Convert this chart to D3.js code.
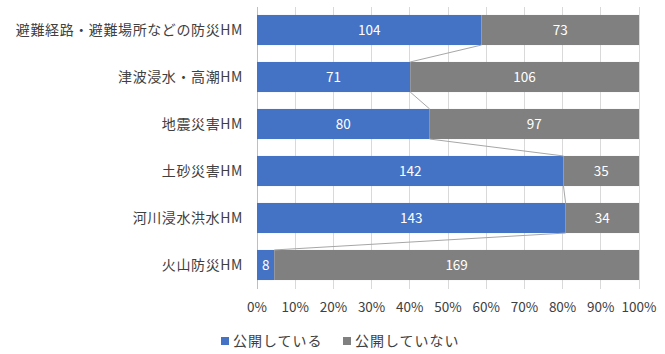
<!DOCTYPE html>
<html>
<head>
<meta charset="utf-8">
<script src="https://cdn.jsdelivr.net/npm/d3@7"></script>
<style>
  body { margin: 0; background: #fff; }
  svg { display: block; font-family: "Noto Sans CJK JP", "Noto Sans", sans-serif; }
</style>
</head>
<body>
<svg id="chart" width="665" height="354"></svg>
<script>
const categories = [
  "避難経路・避難場所などの防災HM",
  "津波浸水・高潮HM",
  "地震災害HM",
  "土砂災害HM",
  "河川浸水洪水HM",
  "火山防災HM"
];
const published = [104, 71, 80, 142, 143, 8];
const notPublished = [73, 106, 97, 35, 34, 169];
const seriesNames = ["公開している", "公開していない"];
const xTicks = [0, 0.1, 0.2, 0.3, 0.4, 0.5, 0.6, 0.7, 0.8, 0.9, 1];

const colors = ["#4472c4", "#808080"];
const margin = { top: 6.5, left: 257, right: 26, bottom: 65.5 };
const width = 665, height = 354;
const w = width - margin.left - margin.right;
const h = height - margin.top - margin.bottom;

const svg = d3.select("#chart");
const g = svg.append("g").attr("transform", `translate(${margin.left},${margin.top})`);

const x = d3.scaleLinear().domain([0, 1]).range([0, w]);
const y = d3.scaleBand().domain(categories).range([0, h]).paddingInner(0.36).paddingOuter(0.18);

// Gridlines
xTicks.forEach(t => {
  g.append("line")
    .attr("x1", x(t)).attr("x2", x(t))
    .attr("y1", 0).attr("y2", h)
    .attr("stroke", t === 0 ? "#bfbfbf" : "#d9d9d9")
    .attr("stroke-width", 1)
    .attr("shape-rendering", "crispEdges");
});

const rows = categories.map((c, i) => {
  const total = published[i] + notPublished[i];
  return { cat: c, a: published[i], b: notPublished[i], pa: published[i] / total };
});

// Bars
rows.forEach(r => {
  g.append("rect")
    .attr("x", x(0)).attr("y", y(r.cat))
    .attr("width", x(r.pa) - x(0)).attr("height", y.bandwidth())
    .attr("fill", colors[0]);
  g.append("rect")
    .attr("x", x(r.pa)).attr("y", y(r.cat))
    .attr("width", x(1) - x(r.pa)).attr("height", y.bandwidth())
    .attr("fill", colors[1]);
});

// Series lines between the blue segment ends
for (let i = 0; i < rows.length - 1; i++) {
  g.append("line")
    .attr("x1", x(rows[i].pa)).attr("y1", y(rows[i].cat) + y.bandwidth())
    .attr("x2", x(rows[i + 1].pa)).attr("y2", y(rows[i + 1].cat))
    .attr("stroke", "#a6a6a6")
    .attr("stroke-width", 1);
}

// Data labels
rows.forEach(r => {
  [[r.pa / 2, r.a], [(r.pa + 1) / 2, r.b]].forEach(([pos, v]) => {
    g.append("text")
      .attr("x", x(pos)).attr("y", y(r.cat) + y.bandwidth() / 2)
      .attr("dy", "0.36em")
      .attr("text-anchor", "middle")
      .attr("fill", "#fff").attr("font-size", "13.5px")
      .text(v);
  });
});

// Category labels
categories.forEach(c => {
  g.append("text")
    .attr("x", -14).attr("y", y(c) + y.bandwidth() / 2)
    .attr("dy", "0.36em")
    .attr("text-anchor", "end")
    .attr("fill", "#404040").attr("font-size", "14px")
    .attr("letter-spacing", "0.6px")
    .text(c);
});

// X tick labels
xTicks.forEach(t => {
  g.append("text")
    .attr("x", x(t)).attr("y", h + 19)
    .attr("dy", "0.36em")
    .attr("text-anchor", "middle")
    .attr("fill", "#404040").attr("font-size", "13.5px")
    .text(d3.format(".0%")(t));
});

// Legend
const legendX = [221, 343];
seriesNames.forEach((s, i) => {
  const lg = svg.append("g").attr("transform", `translate(${legendX[i]},341)`);
  lg.append("rect").attr("x", 0).attr("y", -4).attr("width", 8).attr("height", 8).attr("fill", colors[i]);
  lg.append("text").attr("x", 12).attr("y", 0).attr("dy", "0.36em")
    .attr("fill", "#404040").attr("font-size", "14px")
    .attr("letter-spacing", "1px").text(s);
});
</script>
</body>
</html>
